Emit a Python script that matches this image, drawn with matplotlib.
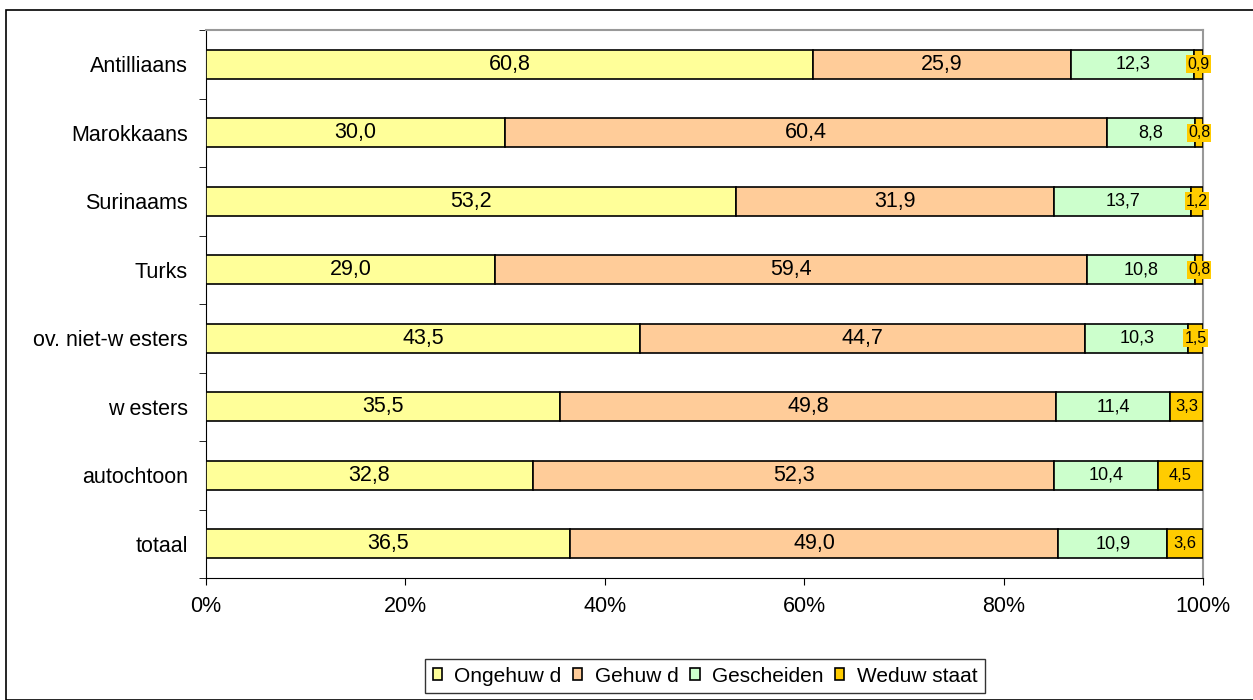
import matplotlib.pyplot as plt
import numpy as np
from matplotlib.patches import Rectangle

plt.rcParams['font.family'] = ['Liberation Sans', 'DejaVu Sans']

# data, top row first
groepen = ['Antilliaans', 'Marokkaans', 'Surinaams', 'Turks',
           'ov. niet-w esters', 'w esters', 'autochtoon', 'totaal']
ongehuwd = [60.8, 30.0, 53.2, 29.0, 43.5, 35.5, 32.8, 36.5]
gehuwd = [25.9, 60.4, 31.9, 59.4, 44.7, 49.8, 52.3, 49.0]
gescheiden = [12.3, 8.8, 13.7, 10.8, 10.3, 11.4, 10.4, 10.9]
weduwstaat = [0.9, 0.8, 1.2, 0.8, 1.5, 3.3, 4.5, 3.6]

series = ['Ongehuw d', 'Gehuw d', 'Gescheiden', 'Weduw staat']
kleuren = ['#FFFF99', '#FFCC99', '#CCFFCC', '#FFCC00']
fontgrootte = [15.5, 15.5, 13, 12]

data = np.array([ongehuwd, gehuwd, gescheiden, weduwstaat])
aandeel = data / data.sum(axis=0)

fig = plt.figure(figsize=(12.53, 7), dpi=100)
fig.patches.append(Rectangle((6 / 1253, 0), 1.0, 1 - 10 / 700, transform=fig.transFigure,
                             fill=False, edgecolor='black', linewidth=1.2))
ax = fig.add_axes([206 / 1253, 1 - 578 / 700, 997 / 1253, 548 / 700])

y = np.arange(len(groepen))[::-1]
links = np.zeros(len(groepen))
for i in range(4):
    ax.barh(y, aandeel[i], left=links, height=0.42, color=kleuren[i],
            edgecolor='black', linewidth=1.2, label=series[i], zorder=3)
    for j in range(len(groepen)):
        midden = links[j] + aandeel[i][j] / 2
        tekst = f'{data[i][j]:.1f}'.replace('.', ',')
        if i == 3 and data[i][j] < 2:
            ax.text(midden, y[j], tekst, ha='center', va='center', fontsize=fontgrootte[i] - 0.5,
                    zorder=5, bbox=dict(boxstyle='square,pad=0.08', facecolor='#FFCC00',
                                        edgecolor='none'))
        else:
            ax.text(midden, y[j], tekst, ha='center', va='center', fontsize=fontgrootte[i],
                    zorder=5)
    links += aandeel[i]

ax.set_xlim(0, 1)
ax.set_ylim(-0.5, len(groepen) - 0.5)
ax.set_xticks(np.linspace(0, 1, 6))
ax.set_xticklabels(['0%', '20%', '40%', '60%', '80%', '100%'], fontsize=15.5)
ax.set_yticks(y)
ax.set_yticklabels(groepen, fontsize=15.5)
ax.set_yticks(np.arange(-0.5, len(groepen)), minor=True)
ax.tick_params(axis='y', which='major', length=0, pad=13)
ax.tick_params(axis='y', which='minor', length=5, direction='out')
ax.tick_params(axis='x', length=5, direction='out', pad=8)

for kant in ['top', 'right']:
    ax.spines[kant].set_color('#999999')
    ax.spines[kant].set_linewidth(1.5)
for kant in ['left', 'bottom']:
    ax.spines[kant].set_color('black')

ax.legend(loc='center', bbox_to_anchor=(705 / 1253, 1 - 676 / 700),
          bbox_transform=fig.transFigure, ncol=4, frameon=True, fancybox=False,
          edgecolor='black', fontsize=15, handlelength=0.45, handleheight=0.45,
          handletextpad=0.6, columnspacing=0.55, borderpad=0.35, borderaxespad=0)

fig.savefig('out.png', dpi=100)
